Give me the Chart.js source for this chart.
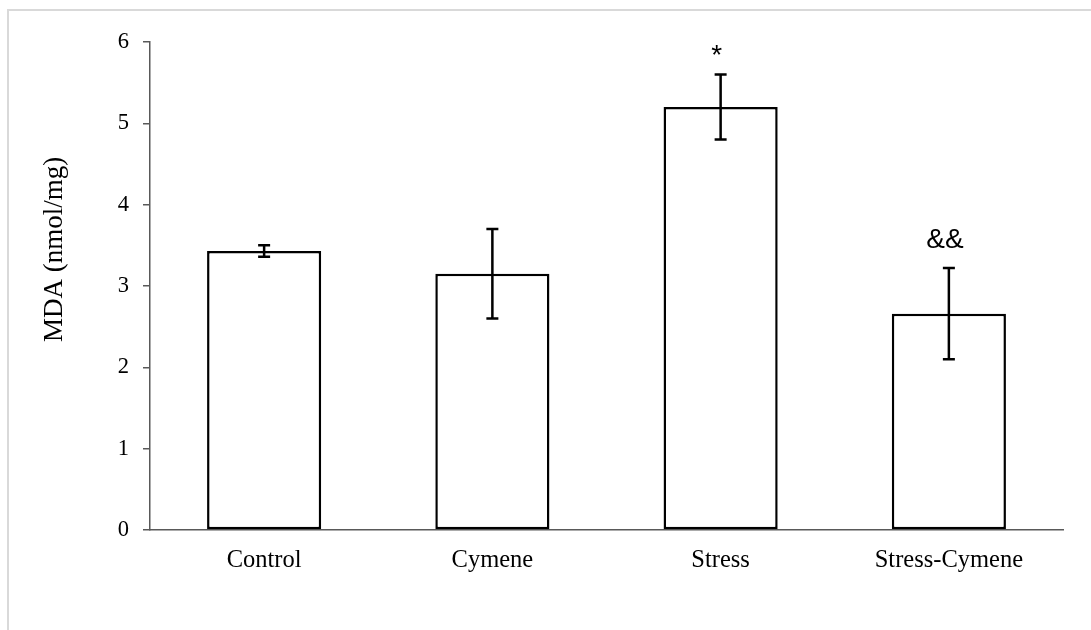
<!DOCTYPE html>
<html><head><meta charset="utf-8">
<script src="https://cdn.jsdelivr.net/npm/chart.js@4"></script>
<style>
html,body{margin:0;padding:0;background:#fff;overflow:hidden;width:1091px;height:630px;}
#frame{position:absolute;left:7px;top:9px;width:1200px;height:800px;border:2px solid #d9d9d9;box-sizing:border-box;}
#c{position:absolute;left:0;top:0;}
</style></head><body>
<div id="frame"></div>
<canvas id="c" width="1091" height="630"></canvas>
<script>
const categories = ['Control', 'Cymene', 'Stress', 'Stress-Cymene'];
const mdaValues = [3.43, 3.15, 5.20, 2.66];
const mdaErrors = [0.07, 0.55, 0.40, 0.56];
const significanceMarks = ['', '', '*', '&&'];
const markLevels = [null, null, 5.73, 3.47];
const yTicks = [0, 1, 2, 3, 4, 5, 6];
const yTitle = 'MDA (nmol/mg)';

const AXIS = '#595959';

const extrasPlugin = {
  id: 'extras',
  afterDatasetsDraw(chart) {
    const ctx = chart.ctx, xs = chart.scales.x, ys = chart.scales.y;
    ctx.save();
    ctx.strokeStyle = '#000';
    ctx.lineWidth = 2.5;
    mdaValues.forEach((v, i) => {
      const cx = xs.getPixelForValue(i);
      const top = ys.getPixelForValue(v + mdaErrors[i]);
      const bot = ys.getPixelForValue(v - mdaErrors[i]);
      const cap = 6;
      ctx.beginPath();
      ctx.moveTo(cx, top); ctx.lineTo(cx, bot);
      ctx.moveTo(cx - cap, top); ctx.lineTo(cx + cap, top);
      ctx.moveTo(cx - cap, bot); ctx.lineTo(cx + cap, bot);
      ctx.stroke();
    });
    ctx.font = '28px "Liberation Sans"';
    ctx.fillStyle = '#000';
    ctx.textAlign = 'center';
    ctx.textBaseline = 'alphabetic';
    significanceMarks.forEach((m, i) => {
      if (m && markLevels[i] != null) {
        ctx.fillText(m, xs.getPixelForValue(i) - 4, ys.getPixelForValue(markLevels[i]));
      }
    });
    // y axis title
    ctx.translate(55, 342);
    ctx.rotate(-Math.PI / 2);
    ctx.font = '27px "Liberation Serif"';
    ctx.textAlign = 'left';
    ctx.textBaseline = 'middle';
    ctx.fillText(yTitle, 0, 0);
    ctx.restore();
  }
};

new Chart(document.getElementById('c'), {
  type: 'bar',
  data: {
    labels: categories,
    datasets: [{
      data: mdaValues,
      backgroundColor: '#ffffff',
      borderColor: '#000000',
      borderWidth: 2.5,
      borderSkipped: false,
      barPercentage: 0.5,
      categoryPercentage: 1.0
    }]
  },
  options: {
    responsive: false,
    animation: false,
    events: [],
    layout: { padding: { top: 42, right: 28, left: 0, bottom: 0 } },
    plugins: { legend: { display: false }, tooltip: { enabled: false }, title: { display: false } },
    scales: {
      x: {
        type: 'category',
        offset: true,
        grid: { display: false, drawTicks: false },
        border: { display: true, color: AXIS, width: 1.5 },
        ticks: { font: { family: '"Liberation Serif"', size: 24.5 }, color: '#000', padding: 16, maxRotation: 0, autoSkip: false },
        afterFit(s) { s.height = 100; }
      },
      y: {
        min: 0, max: 6,
        afterBuildTicks(s) { s.ticks = yTicks.map(v => ({ value: v })); },
        ticks: { font: { family: '"Liberation Serif"', size: 22.5 }, color: '#000', padding: 14 },
        grid: { drawOnChartArea: false, drawTicks: true, tickLength: 7, color: AXIS, lineWidth: 1.5 },
        border: { display: true, color: AXIS, width: 1.5 },
        afterFit(s) { s.width = 150; }
      }
    }
  },
  plugins: [extrasPlugin]
});
</script>
</body></html>
